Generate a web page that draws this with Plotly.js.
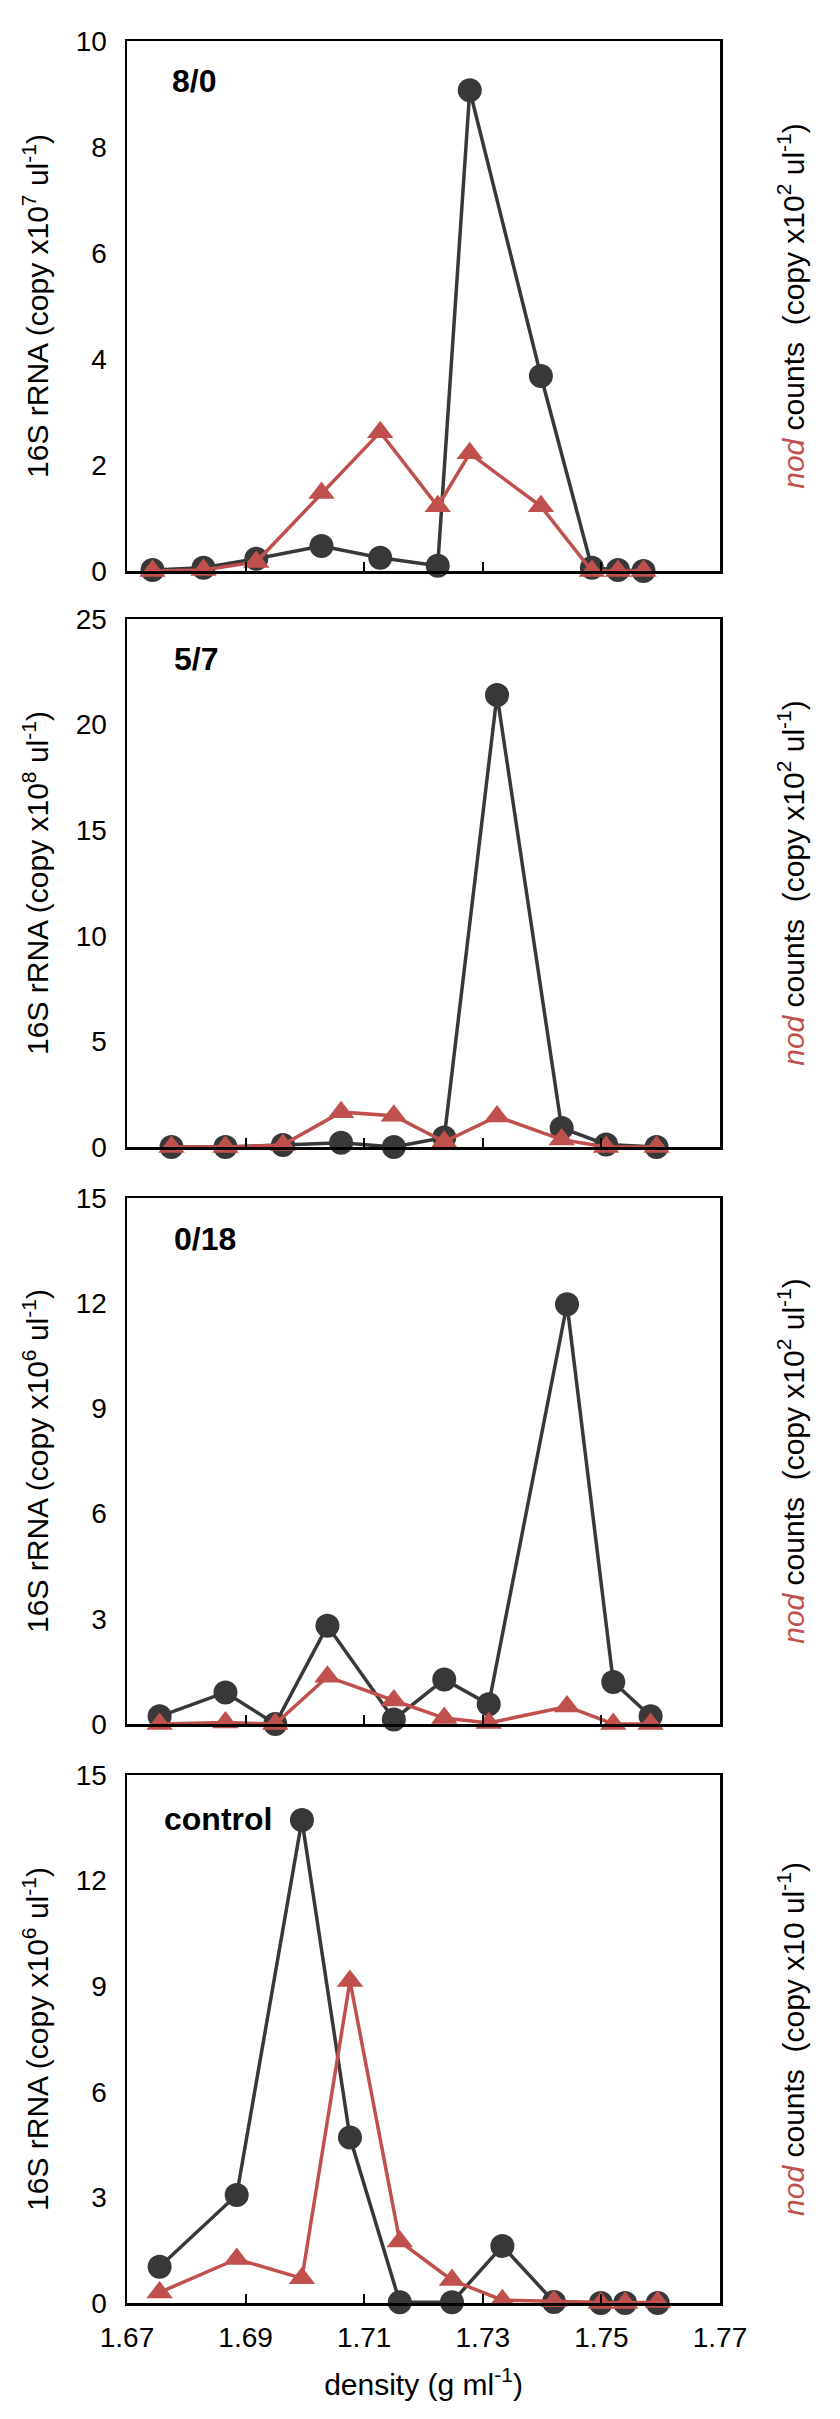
<!DOCTYPE html>
<html>
<head>
<meta charset="utf-8">
<script src="https://cdn.plot.ly/plotly-3.0.1.min.js"></script>
<style>body{margin:0;background:#fff}</style>
</head>
<body>
<div id="chart" style="width:840px;height:2419px"></div>
<script>
// fraction densities (g ml-1) and copy numbers
const density80 = [1.6743, 1.6829, 1.6918, 1.7028, 1.7127, 1.7224, 1.7278, 1.7398, 1.7484, 1.7528, 1.7571];
const rrna80 = [0.02, 0.06, 0.23, 0.47, 0.25, 0.1, 9.07, 3.68, 0.06, 0.02, 0.0];
const nod80 = [0.0, 0.02, 0.17, 1.47, 2.62, 1.22, 2.22, 1.22, 0.0, 0.0, 0.0];

const density57 = [1.6775, 1.6866, 1.6963, 1.7061, 1.715, 1.7235, 1.7324, 1.7433, 1.7508, 1.7593];
const rrna57 = [0.0, 0.0, 0.1, 0.2, 0.0, 0.45, 21.4, 0.9, 0.12, 0.0];
const nod57 = [0.0, 0.0, 0.1, 1.65, 1.48, 0.25, 1.45, 0.35, 0.0, 0.0];

const density018 = [1.6755, 1.6866, 1.695, 1.7038, 1.715, 1.7235, 1.731, 1.7442, 1.752, 1.7583];
const rrna018 = [0.22, 0.9, 0.0, 2.8, 0.13, 1.27, 0.56, 11.97, 1.2, 0.22];
const nod018 = [0.0, 0.04, 0.0, 1.35, 0.67, 0.17, 0.03, 0.5, 0.0, 0.0];

const densityCtrl = [1.6755, 1.6885, 1.6995, 1.7076, 1.716, 1.7248, 1.7333, 1.742, 1.7499, 1.7540, 1.7595];
const rrnaCtrl = [1.03, 3.07, 13.72, 4.7, 0.02, 0.02, 1.62, 0.03, 0.0, 0.0, 0.0];
const nodCtrl = [0.3, 1.25, 0.7, 9.15, 1.75, 0.65, 0.08, 0.05, 0.0, 0.0, 0.03];

const panelNames = ["8/0", "5/7", "0/18", "control"];
const rrnaExp = ["7", "8", "6", "6"];
const nodScale = ["x10<sup>2</sup>", "x10<sup>2</sup>", "x10<sup>2</sup>", "x10"];
const yMax = [10, 25, 15, 15];
const yStep = [2, 5, 3, 3];
const xTicks = ["1.67", "1.69", "1.71", "1.73", "1.75", "1.77"];

const panels = [
  { x: density80, rrna: rrna80, nod: nod80 },
  { x: density57, rrna: rrna57, nod: nod57 },
  { x: density018, rrna: rrna018, nod: nod018 },
  { x: densityCtrl, rrna: rrnaCtrl, nod: nodCtrl },
];

// pixel boxes of the four frames (top, bottom)
const W = 840, H = 2419;
const mt = 41, mb = 116, ml = 127, mr = 120;
const boxes = [[41, 571], [619, 1147], [1198, 1724], [1775, 2303]];
const plotH = H - mt - mb;
const fy = (px) => (H - mb - px) / plotH;
const fx = (px) => (px - ml) / (W - ml - mr);

const BLACK = "#383838";
const RED = "#C0504D";
const FONT = "Arial, 'Liberation Sans', sans-serif";

let data = [];
let layout = {
  width: W,
  height: H,
  margin: { l: ml, r: mr, t: mt, b: mb },
  paper_bgcolor: "#fff",
  plot_bgcolor: "#fff",
  showlegend: false,
  font: { family: FONT, color: "#000", size: 28 },
  annotations: [],
};

const labelPos = [[170, 80.5], [172, 659], [172, 1239], [162, 1819]];

panels.forEach((p, i) => {
  const n = i + 1;
  const xa = n === 1 ? "x" : "x" + n;
  const yl = n === 1 ? "y" : "y" + (2 * n - 1);
  const yr = "y" + 2 * n;
  const last = n === 4;
  const dom = [fy(boxes[i][1]), fy(boxes[i][0])];

  data.push({
    type: "scatter", mode: "lines+markers", x: p.x, y: p.rrna,
    xaxis: xa, yaxis: yl, cliponaxis: false, name: "16S rRNA",
    line: { color: BLACK, width: 3.5 },
    marker: { symbol: "circle", size: 24, color: BLACK },
  });
  data.push({
    type: "scatter", mode: "lines+markers", x: p.x, y: p.nod,
    xaxis: xa, yaxis: yr, cliponaxis: false, name: "nod",
    line: { color: RED, width: 3.5 },
    marker: { symbol: "triangle-up", size: 23, color: RED },
  });

  layout["xaxis" + (n === 1 ? "" : n)] = {
    anchor: yl,
    domain: [0, 1],
    range: [1.67, 1.77],
    tickmode: "array",
    tickvals: xTicks.map(Number),
    ticktext: xTicks,
    showticklabels: last,
    ticks: "inside",
    ticklen: 9,
    tickwidth: 2,
    tickcolor: "#000",
    showline: true,
    linewidth: 2.5,
    linecolor: "#000",
    mirror: true,
    showgrid: false,
    zeroline: false,
    tickfont: { size: 28 },
    ticklabelstandoff: 8,
    title: last ? { text: "density (g ml<sup>-1</sup>)", font: { size: 30 }, standoff: 22 } : { text: "" },
  };

  layout["yaxis" + (n === 1 ? "" : 2 * n - 1)] = {
    anchor: xa,
    domain: dom,
    range: [0, yMax[i]],
    dtick: yStep[i],
    tick0: 0,
    ticks: "",
    showline: true,
    linewidth: 2.5,
    linecolor: "#000",
    mirror: true,
    showgrid: false,
    zeroline: false,
    tickfont: { size: 28 },
    ticklabelstandoff: 12,
    title: {
      text: "16S rRNA (copy x10<sup>" + rrnaExp[i] + "</sup> ul<sup>-1</sup>)",
      font: { size: 30 },
      standoff: 18,
    },
  };

  layout["yaxis" + 2 * n] = {
    anchor: xa,
    overlaying: yl,
    side: "right",
    range: [0, yMax[i]],
    showticklabels: false,
    ticks: "",
    showline: false,
    showgrid: false,
    zeroline: false,
    title: {
      text: "<span style='color:" + RED + "'><i>nod</i></span> counts\u00a0 (copy " + nodScale[i] + " ul<sup>-1</sup>)",
      font: { size: 30 },
      standoff: 62,
    },
  };

  layout.annotations.push({
    xref: "paper", yref: "paper",
    x: fx(labelPos[i][0]), y: fy(labelPos[i][1]),
    xanchor: "left", yanchor: "middle",
    text: "<b>" + panelNames[i] + "</b>",
    showarrow: false,
    font: { size: 32, family: FONT, color: "#000" },
  });
});

Plotly.newPlot("chart", data, layout, { staticPlot: true });
</script>
</body>
</html>
